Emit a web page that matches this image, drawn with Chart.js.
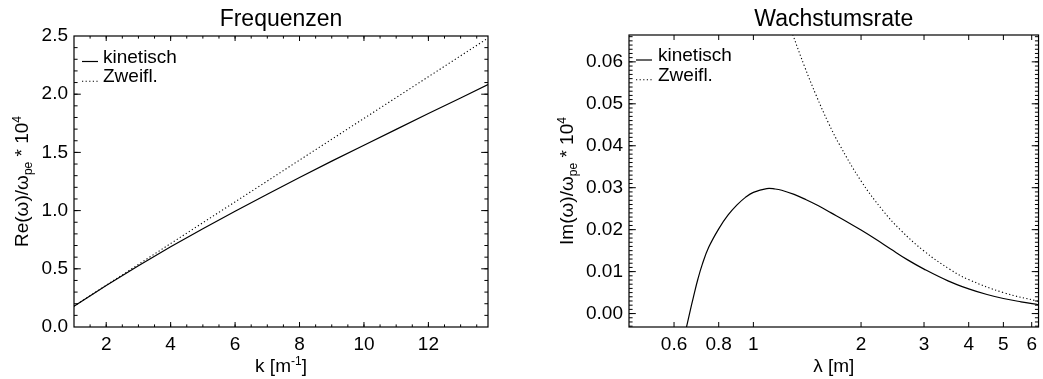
<!DOCTYPE html>
<html>
<head>
<meta charset="utf-8">
<title>Frequenzen und Wachstumsrate</title>
<script src="https://cdn.jsdelivr.net/npm/chart.js@4.4.1/dist/chart.umd.min.js"></script>
<style>
  html, body { margin: 0; padding: 0; background: #fff; }
  #wrap { position: relative; width: 1043px; height: 379px; overflow: hidden; }
  canvas { position: absolute; top: 0; }
  #freq { left: 0; }
  #growth { left: 520px; }
</style>
</head>
<body>
<div id="wrap">
  <canvas id="freq" width="520" height="379"></canvas>
  <canvas id="growth" width="523" height="379"></canvas>
</div>
<script>
// ---- Frequenzen: Re(omega) over wave number k ----
const kValues      = [1, 2, 3, 4, 5, 6, 7, 8, 9, 10, 11, 12, 13, 13.85];
const freqKinetic  = [0.179, 0.357, 0.527, 0.689, 0.844, 0.994, 1.141, 1.285, 1.425, 1.562, 1.698, 1.834, 1.968, 2.083];
const freqZweifl   = [0.179, 0.358, 0.538, 0.717, 0.896, 1.075, 1.254, 1.434, 1.613, 1.792, 1.971, 2.150, 2.330, 2.482];

// ---- Wachstumsrate: Im(omega) over wavelength lambda ----
const lambdaKinetic = [0.645, 0.663, 0.68, 0.70, 0.72, 0.75, 0.80, 0.85, 0.90, 0.95, 1.0, 1.09, 1.15, 1.2, 1.3, 1.4, 1.52, 1.65, 1.8, 2.0, 2.2, 2.42, 2.7, 3.0, 3.5, 4.0, 4.5, 5.0, 5.6, 6.27];
const growthKinetic = [-0.0045, 0.0, 0.0040, 0.0083, 0.0118, 0.0158, 0.0202, 0.0235, 0.0259, 0.0277, 0.0289, 0.0298, 0.0297, 0.0294, 0.0284, 0.0272, 0.0257, 0.0240, 0.0222, 0.0199, 0.0177, 0.0154, 0.0128, 0.0106, 0.0078, 0.0059, 0.00455, 0.0036, 0.0028, 0.0021];
const lambdaZweifl  = [1.25, 1.29, 1.39, 1.5, 1.62, 1.74, 2.0, 2.3, 2.58, 3.0, 3.55, 4.0, 5.0, 6.27];
const growthZweifl  = [0.0698, 0.0664, 0.0589, 0.0519, 0.0455, 0.0403, 0.0316, 0.0246, 0.0199, 0.0149, 0.0105, 0.0081, 0.0050, 0.0029];

// ---- tick labels ----
const kTicks      = [2, 4, 6, 8, 10, 12];
const freqTicks   = [0.0, 0.5, 1.0, 1.5, 2.0, 2.5];
const lambdaTicks = [0.6, 0.8, 1, 2, 3, 4, 5, 6];
const growthTicks = [0.00, 0.01, 0.02, 0.03, 0.04, 0.05, 0.06];

const FONT = '"Liberation Sans", Arial, Helvetica, sans-serif';
Chart.defaults.font.family = FONT;
Chart.defaults.color = '#000';

function steps(from, to, step) {
  const out = [];
  const n = Math.round((to - from) / step);
  for (let i = 0; i <= n; i++) out.push(+(from + i * step).toFixed(6));
  return out;
}

// Rich text (sub/superscripts) drawn centred at cx, with baseline at by
function drawRich(ctx, segs, cx, by, rotated) {
  ctx.save();
  ctx.translate(cx, by);
  if (rotated) ctx.rotate(-Math.PI / 2);
  ctx.textAlign = 'left';
  ctx.textBaseline = 'alphabetic';
  ctx.fillStyle = '#000';
  let total = 0;
  const widths = segs.map(s => {
    ctx.font = s.size + 'px ' + FONT;
    const w = ctx.measureText(s.text).width;
    total += w;
    return w;
  });
  let x = -total / 2;
  segs.forEach((s, i) => {
    ctx.font = s.size + 'px ' + FONT;
    ctx.fillText(s.text, x, s.dy || 0);
    x += widths[i];
  });
  ctx.restore();
}

// Frame with inward ticks on all four sides, titles and in-plot legend
const framePlugin = {
  id: 'idlFrame',
  afterDraw(chart, args, o) {
    const { ctx, chartArea: a } = chart;
    const xs = chart.scales.x, ys = chart.scales.y;
    ctx.save();
    ctx.strokeStyle = '#000';
    ctx.lineWidth = 1.2;
    ctx.strokeRect(a.left, a.top, a.right - a.left, a.bottom - a.top);

    ctx.lineWidth = 1;
    ctx.beginPath();
    const xTick = (v, len) => {
      const p = xs.getPixelForValue(v);
      if (p < a.left + 0.5 || p > a.right - 0.5) return;
      ctx.moveTo(p, a.bottom); ctx.lineTo(p, a.bottom - len);
      ctx.moveTo(p, a.top);    ctx.lineTo(p, a.top + len);
    };
    const yTick = (v, len) => {
      const p = ys.getPixelForValue(v);
      if (p < a.top + 0.5 || p > a.bottom - 0.5) return;
      ctx.moveTo(a.left, p);  ctx.lineTo(a.left + len, p);
      ctx.moveTo(a.right, p); ctx.lineTo(a.right - len, p);
    };
    o.xMinor.forEach(v => xTick(v, o.xMinorLen));
    o.xMajor.forEach(v => xTick(v, o.xMajorLen));
    o.yMinor.forEach(v => yTick(v, o.yMinorLen));
    o.yMajor.forEach(v => yTick(v, o.yMajorLen));
    ctx.stroke();

    // title
    ctx.fillStyle = '#000';
    ctx.font = '23px ' + FONT;
    ctx.textAlign = 'center';
    ctx.textBaseline = 'alphabetic';
    ctx.fillText(o.title, (a.left + a.right) / 2, o.titleBaseline);

    // axis titles
    drawRich(ctx, o.xTitle, (a.left + a.right) / 2, o.xTitleBaseline, false);
    drawRich(ctx, o.yTitle, o.yTitleBaseline, (a.top + a.bottom) / 2, true);

    // legend
    const L = o.legend;
    chart.data.datasets.forEach((ds, i) => {
      const yy = L.y + i * L.spacing;
      ctx.beginPath();
      ctx.lineWidth = ds.borderWidth;
      ctx.setLineDash(ds.borderDash || []);
      ctx.moveTo(L.x0, yy - 0.5);
      ctx.lineTo(L.x1, yy - 0.5);
      ctx.stroke();
      ctx.setLineDash([]);
      ctx.font = '19px ' + FONT;
      ctx.textAlign = 'left';
      ctx.fillText(ds.label, L.tx, yy + 0.5);
    });
    ctx.restore();
  }
};

const solidStyle  = { borderColor: '#000', borderWidth: 1.2, pointRadius: 0, fill: false };
const dottedStyle = { borderColor: '#000', borderWidth: 1.1, borderDash: [1.2, 2.4], pointRadius: 0, fill: false };

function axisBase(ticksList, fmt, padding) {
  return {
    grid: { display: false, drawTicks: false },
    border: { display: false },
    ticks: {
      font: { size: 19 }, color: '#000', padding: padding,
      autoSkip: false, maxRotation: 0, minRotation: 0,
      callback: fmt
    },
    afterBuildTicks: s => { s.ticks = ticksList.map(v => ({ value: v })); }
  };
}

// ---- left chart ----
new Chart(document.getElementById('freq'), {
  type: 'line',
  data: {
    datasets: [
      Object.assign({ label: 'kinetisch', data: kValues.map((k, i) => ({ x: k, y: freqKinetic[i] })) }, solidStyle),
      Object.assign({ label: 'Zweifl.',   data: kValues.map((k, i) => ({ x: k, y: freqZweifl[i] })) }, dottedStyle)
    ]
  },
  options: {
    responsive: false, animation: false, devicePixelRatio: 1,
    layout: { padding: { top: 36, right: 32, left: 0, bottom: 0 } },
    scales: {
      x: Object.assign(axisBase(kTicks, v => String(v), 6), {
        type: 'linear', min: 1, max: 13.85,
        afterFit: s => { s.height = 52; }
      }),
      y: Object.assign(axisBase(freqTicks, v => v.toFixed(1), 6), {
        type: 'linear', min: 0, max: 2.5,
        afterFit: s => { s.width = 74; }
      })
    },
    plugins: {
      legend: { display: false }, tooltip: { enabled: false },
      idlFrame: {
        xMajor: kTicks, xMinor: steps(1, 13.5, 0.5), xMajorLen: 5, xMinorLen: 2.6,
        yMajor: freqTicks, yMinor: steps(0, 2.5, 0.1), yMajorLen: 6.8, yMinorLen: 3.6,
        title: 'Frequenzen', titleBaseline: 26,
        xTitle: [{ text: 'k [m', size: 19 }, { text: '-1', size: 12, dy: -7 }, { text: ']', size: 19 }],
        xTitleBaseline: 372,
        yTitle: [{ text: 'Re(ω)/ω', size: 19 }, { text: 'pe', size: 12, dy: 4 }, { text: ' * 10', size: 19 }, { text: '4', size: 12, dy: -7 }],
        yTitleBaseline: 28,
        legend: { x0: 82, x1: 98, tx: 103, y: 62, spacing: 19.7 }
      }
    },
    elements: { line: { tension: 0 } }
  },
  plugins: [framePlugin]
});

// ---- right chart ----
new Chart(document.getElementById('growth'), {
  type: 'line',
  data: {
    datasets: [
      Object.assign({ label: 'kinetisch',
        data: lambdaKinetic.map((l, i) => ({ x: l, y: growthKinetic[i] })) }, solidStyle),
      Object.assign({ label: 'Zweifl.',
        data: lambdaZweifl.map((l, i) => ({ x: l, y: growthZweifl[i] })) }, dottedStyle)
    ]
  },
  options: {
    responsive: false, animation: false, devicePixelRatio: 1,
    layout: { padding: { top: 35, right: 1, left: 0, bottom: 0 } },
    elements: { line: { tension: 0.4 } },
    scales: {
      x: Object.assign(axisBase(lambdaTicks, v => String(v), 6), {
        type: 'logarithmic', min: 0.449, max: 6.27,
        afterFit: s => { s.height = 52; }
      }),
      y: Object.assign(axisBase(growthTicks, v => v.toFixed(2), 6), {
        type: 'linear', min: -0.0032, max: 0.0664,
        afterFit: s => { s.width = 109; }
      })
    },
    plugins: {
      legend: { display: false }, tooltip: { enabled: false },
      idlFrame: {
        xMajor: lambdaTicks, xMinor: [], xMajorLen: 5, xMinorLen: 2.6,
        yMajor: growthTicks, yMinor: steps(-0.003, 0.066, 0.001), yMajorLen: 6.8, yMinorLen: 3.6,
        title: 'Wachstumsrate', titleBaseline: 26,
        xTitle: [{ text: 'λ [m]', size: 19 }],
        xTitleBaseline: 372,
        yTitle: [{ text: 'Im(ω)/ω', size: 19 }, { text: 'pe', size: 12, dy: 4 }, { text: ' * 10', size: 19 }, { text: '4', size: 12, dy: -7 }],
        yTitleBaseline: 53,
        legend: { x0: 116, x1: 132, tx: 138, y: 60.5, spacing: 19.7 }
      }
    }
  },
  plugins: [framePlugin]
});
</script>
</body>
</html>
